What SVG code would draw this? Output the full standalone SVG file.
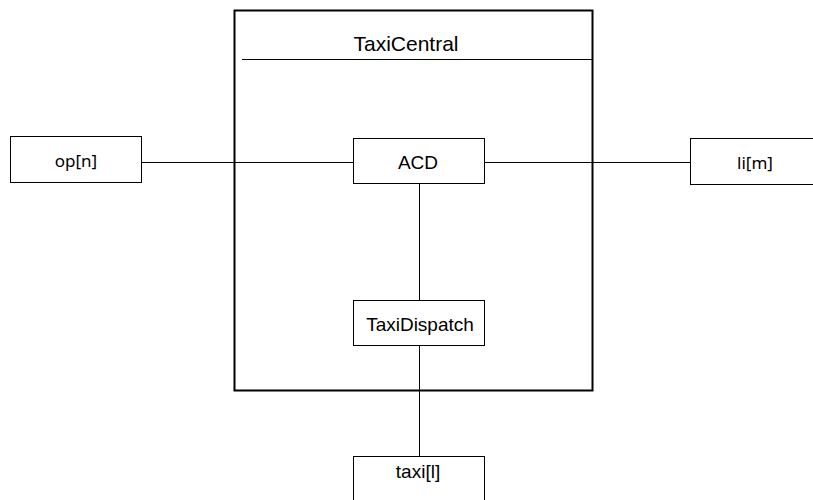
<svg xmlns="http://www.w3.org/2000/svg" width="813" height="500" viewBox="0 0 813 500">
<style>
.box{fill:#fff;stroke:#000;stroke-width:1}
.t{font-family:"Liberation Sans",Arial,sans-serif;font-size:19px;fill:#000;text-anchor:middle}
.n{font-family:"Noto Sans","DejaVu Sans",sans-serif;font-size:17px;fill:#000;text-anchor:middle}
.c{stroke:#000;stroke-width:1;fill:none}
</style>
<rect width="813" height="500" fill="#fff"/>
<g id="TaxiCentral">
<rect x="234.5" y="10.5" width="358" height="380" fill="none" stroke="#000" stroke-width="2"/>
<line x1="242" y1="59.5" x2="593" y2="59.5" stroke="#000" stroke-width="1"/>
<text class="t" x="406" y="51" style="font-size:21px">TaxiCentral</text>
</g>
<g id="connectors">
<line class="c" x1="141" y1="162.5" x2="353" y2="162.5"/>
<line class="c" x1="485" y1="162.5" x2="690" y2="162.5"/>
<line class="c" x1="419.5" y1="184" x2="419.5" y2="300"/>
<line class="c" x1="419.5" y1="346" x2="419.5" y2="456"/>
</g>
<g id="op">
<rect class="box" x="10.5" y="136.5" width="131" height="46"/>
<text class="n" x="76" y="167">op[n]</text>
</g>
<g id="ACD">
<rect class="box" x="353.5" y="138.5" width="131" height="45"/>
<text class="t" x="418" y="169">ACD</text>
</g>
<g id="li">
<rect class="box" x="690.5" y="138.5" width="131" height="46"/>
<text class="n" x="755" y="169">li[m]</text>
</g>
<g id="TaxiDispatch">
<rect class="box" x="353.5" y="300.5" width="131" height="45"/>
<text class="t" x="420" y="331">TaxiDispatch</text>
</g>
<g id="taxi">
<rect class="box" x="353.5" y="456.5" width="131" height="46"/>
<text class="t" x="418" y="478">taxi[l]</text>
</g>
</svg>
